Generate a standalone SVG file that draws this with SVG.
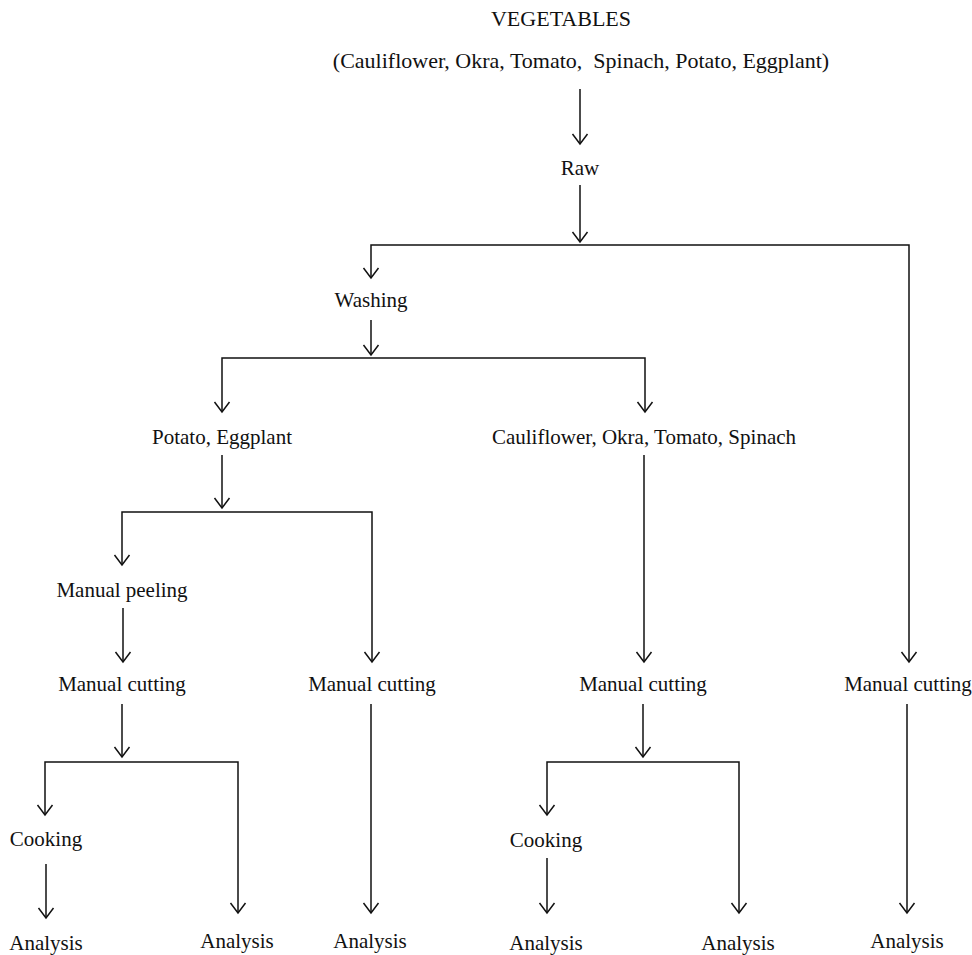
<svg xmlns="http://www.w3.org/2000/svg" width="972" height="955" viewBox="0 0 972 955">
<style>
text{font-family:"Liberation Serif","Times New Roman",serif;font-size:21px;fill:#111;text-anchor:middle}
.big{font-size:22px}
.c path{fill:none;stroke:#111;stroke-width:1.5;marker-end:url(#ah)}
</style>
<defs>
<marker id="ah" markerUnits="userSpaceOnUse" markerWidth="20" markerHeight="20" viewBox="-12 -10 14 20" refX="0" refY="0" orient="auto" overflow="visible">
<path d="M-10,-7.5 L0,0 L-10,7.5" fill="none" stroke="#111" stroke-width="1.5"/>
</marker>
</defs>
<rect width="972" height="955" fill="#fff"/>
<g class="c" id="connectors">
<path d="M580,89 V144"/>
<path d="M580,185 V242"/>
<path d="M580,245 H371 V278"/>
<path d="M580,245 H909 V662"/>
<path d="M371,320 V355"/>
<path d="M371,358 H222 V412"/>
<path d="M371,358 H645 V412"/>
<path d="M222,455 V508"/>
<path d="M222,512 H122 V565"/>
<path d="M222,512 H372 V662"/>
<path d="M644,455 V662"/>
<path d="M123,608 V662"/>
<path d="M122,704 V757"/>
<path d="M122,762 H45 V815"/>
<path d="M122,762 H238 V913"/>
<path d="M46,864 V918"/>
<path d="M371,704 V913"/>
<path d="M643,704 V757"/>
<path d="M643,762 H547 V815"/>
<path d="M643,762 H739 V913"/>
<path d="M547,858 V913"/>
<path d="M907,704 V913"/>
</g>
<g id="n-vegetables"><text class="big" x="561" y="26">VEGETABLES</text></g>
<g id="n-list"><text class="big" x="581" y="68" xml:space="preserve">(Cauliflower, Okra, Tomato,  Spinach, Potato, Eggplant)</text></g>
<g id="n-raw"><text x="580" y="175">Raw</text></g>
<g id="n-washing"><text x="371" y="307">Washing</text></g>
<g id="n-potato"><text x="222" y="444">Potato, Eggplant</text></g>
<g id="n-cauli"><text x="644" y="444">Cauliflower, Okra, Tomato, Spinach</text></g>
<g id="n-peeling"><text x="122" y="597">Manual peeling</text></g>
<g id="n-cut1"><text x="122" y="691">Manual cutting</text></g>
<g id="n-cut2"><text x="372" y="691">Manual cutting</text></g>
<g id="n-cut3"><text x="643" y="691">Manual cutting</text></g>
<g id="n-cut4"><text x="908" y="691">Manual cutting</text></g>
<g id="n-cook1"><text x="46" y="846">Cooking</text></g>
<g id="n-cook2"><text x="546" y="847">Cooking</text></g>
<g id="n-an1"><text x="46" y="950">Analysis</text></g>
<g id="n-an2"><text x="237" y="948">Analysis</text></g>
<g id="n-an3"><text x="370" y="948">Analysis</text></g>
<g id="n-an4"><text x="546" y="950">Analysis</text></g>
<g id="n-an5"><text x="738" y="950">Analysis</text></g>
<g id="n-an6"><text x="907" y="948">Analysis</text></g>
</svg>
